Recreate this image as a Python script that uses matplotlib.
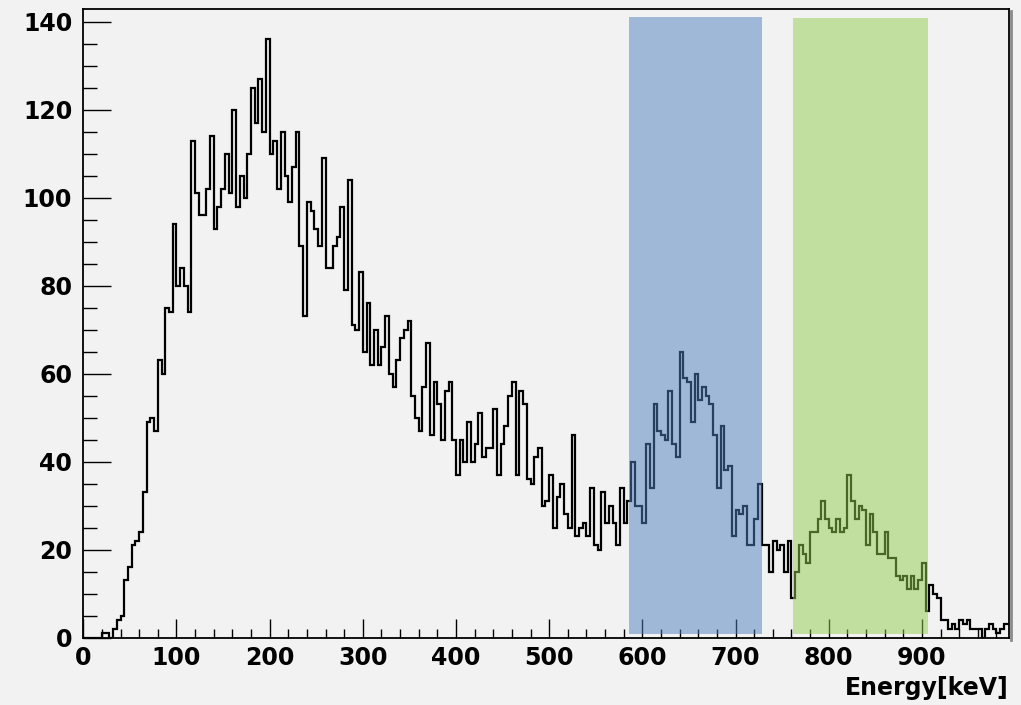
import numpy as np
import matplotlib
matplotlib.use("Agg")
import matplotlib.pyplot as plt
from matplotlib.patches import Rectangle
from matplotlib.ticker import MultipleLocator
from matplotlib.lines import Line2D

# ---- data ----
bin_width = 4.0          # keV
x_start = 0.0
counts = [
    0, 0, 0, 0, 0, 1, 1, 0, 2, 4,
    5, 13, 16, 21, 22, 24, 33, 49, 50, 47,
    63, 60, 75, 74, 94, 80, 84, 80, 74, 113,
    101, 96, 96, 102, 114, 93, 98, 102, 110, 101,
    120, 98, 105, 100, 110, 125, 117, 127, 115, 136,
    110, 113, 102, 115, 105, 99, 107, 115, 89, 73,
    99, 97, 93, 89, 109, 84, 84, 89, 91, 98,
    79, 104, 71, 70, 83, 65, 76, 62, 70, 62,
    66, 73, 60, 57, 63, 68, 70, 72, 55, 50,
    47, 57, 67, 46, 58, 53, 45, 56, 58, 45,
    37, 45, 40, 49, 40, 44, 51, 41, 43, 43,
    52, 37, 44, 48, 55, 58, 37, 56, 53, 36,
    35, 41, 43, 30, 31, 37, 25, 32, 35, 28,
    25, 46, 23, 25, 26, 23, 34, 21, 20, 33,
    26, 30, 26, 21, 34, 26, 31, 40, 30, 30,
    26, 44, 34, 53, 47, 46, 45, 56, 44, 41,
    65, 59, 58, 49, 60, 54, 57, 55, 53, 46,
    34, 48, 38, 39, 23, 29, 28, 30, 21, 21,
    27, 35, 21, 21, 15, 22, 20, 21, 15, 22,
    9, 15, 21, 19, 17, 24, 24, 27, 31, 27,
    25, 24, 27, 24, 25, 37, 31, 27, 30, 29,
    21, 28, 24, 19, 19, 24, 18, 18, 14, 13,
    14, 11, 14, 11, 13, 17, 6, 12, 10, 9,
    4, 4, 2, 3, 2, 4, 3, 4, 2, 2,
    2, 0, 2, 3, 2, 1, 2, 3, 3,
]
region_lo = [585.4, 761.7]      # keV
region_hi = [728.8, 906.4]      # keV
region_bottom = [0.8, 0.8]
region_top = [141.0, 140.8]
region_colors = ["#4e80be", "#92ce4e"]

x_ticks = [0, 100, 200, 300, 400, 500, 600, 700, 800, 900]
y_ticks = [0, 20, 40, 60, 80, 100, 120, 140]
x_label = "Energy[keV]"

# ---- figure ----
bg = "#f2f2f2"
fig = plt.figure(figsize=(10.21, 7.05), dpi=100, facecolor=bg)
ax = fig.add_axes([0.08159, 0.09574, 0.9062, 0.8908])
ax.set_facecolor(bg)

edges = x_start + bin_width * np.arange(len(counts) + 1)
ax.stairs(counts, edges, color="black", lw=1.6, zorder=2, baseline=None)

for lo, hi, b, t, c in zip(region_lo, region_hi, region_bottom, region_top, region_colors):
    ax.add_patch(Rectangle((lo, b), hi - lo, t - b, facecolor=c, edgecolor="none",
                           alpha=0.5, zorder=3))

ax.set_xlim(0, 993)
ax.set_ylim(0, 142.8)

ax.set_xticks(x_ticks)
ax.set_yticks(y_ticks)
ax.xaxis.set_minor_locator(MultipleLocator(20))
ax.yaxis.set_minor_locator(MultipleLocator(5))

font = dict(family="DejaVu Sans", weight="bold", size=17)
ax.set_xticklabels([str(v) for v in x_ticks], fontdict=font)
ax.set_yticklabels([str(v) for v in y_ticks], fontdict=font)

ax.tick_params(axis="x", which="major", direction="in", length=13.5, width=1.0, pad=6)
ax.tick_params(axis="x", which="minor", direction="in", length=6.5, width=1.0)
ax.tick_params(axis="y", which="major", direction="in", length=20, width=1.0, pad=8)
ax.tick_params(axis="y", which="minor", direction="in", length=10, width=1.0)

for s in ax.spines.values():
    s.set_linewidth(1.3)
    s.set_color("black")
    s.set_zorder(5)

# frame shadow on the right (ROOT style)
fig.add_artist(Line2D([1010.8 / 1021, 1010.8 / 1021], [1 - 11 / 705, 1 - 640 / 705],
                      transform=fig.transFigure, color="#8a8a8a", lw=2.0))

fig.text(1008.5 / 1021, (705 - 695) / 705, x_label, ha="right", va="baseline",
         family="DejaVu Sans", weight="bold", size=17)

fig.savefig("out.png", dpi=100, facecolor=bg)
